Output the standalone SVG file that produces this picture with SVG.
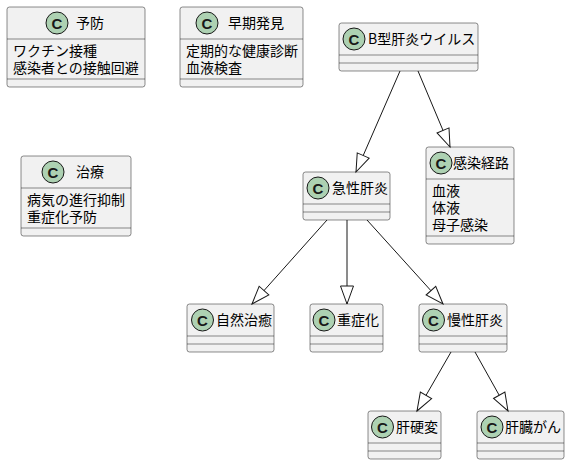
<svg xmlns="http://www.w3.org/2000/svg" width="570" height="466" viewBox="0 0 570 466">
<style>
.box{fill:#F1F1F1;stroke:#181818;stroke-width:0.5}
.sep{stroke:#181818;stroke-width:0.5}
.circ{fill:#ADD1B2;stroke:#181818;stroke-width:1}
.c{font-family:"Liberation Sans","DejaVu Sans",sans-serif;font-size:15px;font-weight:bold;fill:#181818;text-anchor:middle}
.t{font-family:"Noto Sans CJK JP","Noto Sans",sans-serif;font-size:14px;fill:#000}
.edge{stroke:#181818;stroke-width:1;fill:none}
</style>
<defs>
<marker id="tri" markerUnits="userSpaceOnUse" markerWidth="22" markerHeight="16" viewBox="-20 -8 22 16" refX="0" refY="0" orient="auto">
<path d="M0,0 L-18,-6.5 L-18,6.5 Z" fill="#FFFFFF" stroke="#181818" stroke-width="1"/>
</marker>
</defs>
<rect width="570" height="466" fill="#FFFFFF"/>

<g id="n-yobou">
<rect class="box" x="7" y="7" width="138" height="80" rx="2.5"/>
<circle class="circ" cx="57" cy="23" r="11"/><text class="c" x="57" y="28.5">C</text>
<text class="t" x="76" y="28">予防</text>
<line class="sep" x1="7" y1="39" x2="145" y2="39"/>
<text class="t" x="13" y="55.5">ワクチン接種</text>
<text class="t" x="13" y="72.5">感染者との接触回避</text>
<line class="sep" x1="7" y1="79" x2="145" y2="79"/>
</g>

<g id="n-soukihakken">
<rect class="box" x="180" y="7" width="123" height="80" rx="2.5"/>
<circle class="circ" cx="207" cy="23" r="11"/><text class="c" x="207" y="28.5">C</text>
<text class="t" x="228" y="28">早期発見</text>
<line class="sep" x1="180" y1="39" x2="303" y2="39"/>
<text class="t" x="186" y="55.5">定期的な健康診断</text>
<text class="t" x="186" y="72.5">血液検査</text>
<line class="sep" x1="180" y1="79" x2="303" y2="79"/>
</g>

<g id="n-chiryou">
<rect class="box" x="21" y="156" width="110" height="80" rx="2.5"/>
<circle class="circ" cx="53" cy="172" r="11"/><text class="c" x="53" y="177.5">C</text>
<text class="t" x="76" y="177">治療</text>
<line class="sep" x1="21" y1="188" x2="131" y2="188"/>
<text class="t" x="27" y="204.5">病気の進行抑制</text>
<text class="t" x="27" y="221.5">重症化予防</text>
<line class="sep" x1="21" y1="228" x2="131" y2="228"/>
</g>

<g id="n-hbv">
<rect class="box" x="339" y="23" width="139" height="48" rx="2.5"/>
<circle class="circ" cx="354" cy="39" r="11"/><text class="c" x="354" y="44.5">C</text>
<text class="t" x="368" y="44">B型肝炎ウイルス</text>
<line class="sep" x1="339" y1="55" x2="478" y2="55"/>
<line class="sep" x1="339" y1="63" x2="478" y2="63"/>
</g>

<g id="n-kansenkeiro">
<rect class="box" x="426" y="147" width="88" height="97" rx="2.5"/>
<circle class="circ" cx="441" cy="163" r="11"/><text class="c" x="441" y="168.5">C</text>
<text class="t" x="453" y="168">感染経路</text>
<line class="sep" x1="426" y1="179" x2="514" y2="179"/>
<text class="t" x="432" y="195.5">血液</text>
<text class="t" x="432" y="212.5">体液</text>
<text class="t" x="432" y="229.5">母子感染</text>
<line class="sep" x1="426" y1="236" x2="514" y2="236"/>
</g>

<g id="n-kyusei">
<rect class="box" x="303" y="172" width="87" height="48" rx="2.5"/>
<circle class="circ" cx="318" cy="188" r="11"/><text class="c" x="318" y="193.5">C</text>
<text class="t" x="332" y="193">急性肝炎</text>
<line class="sep" x1="303" y1="204" x2="390" y2="204"/>
<line class="sep" x1="303" y1="212" x2="390" y2="212"/>
</g>

<g id="n-shizenchiyu">
<rect class="box" x="187" y="304" width="87" height="48" rx="2.5"/>
<circle class="circ" cx="202.5" cy="320" r="11"/><text class="c" x="202.5" y="325.5">C</text>
<text class="t" x="216" y="325">自然治癒</text>
<line class="sep" x1="187" y1="336" x2="274" y2="336"/>
<line class="sep" x1="187" y1="344" x2="274" y2="344"/>
</g>

<g id="n-juushouka">
<rect class="box" x="310" y="304" width="73" height="48" rx="2.5"/>
<circle class="circ" cx="324" cy="320" r="11"/><text class="c" x="324" y="325.5">C</text>
<text class="t" x="337" y="325">重症化</text>
<line class="sep" x1="310" y1="336" x2="383" y2="336"/>
<line class="sep" x1="310" y1="344" x2="383" y2="344"/>
</g>

<g id="n-mansei">
<rect class="box" x="419" y="304" width="88" height="48" rx="2.5"/>
<circle class="circ" cx="433.5" cy="320" r="11"/><text class="c" x="433.5" y="325.5">C</text>
<text class="t" x="447" y="325">慢性肝炎</text>
<line class="sep" x1="419" y1="336" x2="507" y2="336"/>
<line class="sep" x1="419" y1="344" x2="507" y2="344"/>
</g>

<g id="n-kankouhen">
<rect class="box" x="368" y="411" width="73" height="48" rx="2.5"/>
<circle class="circ" cx="382.5" cy="427" r="11"/><text class="c" x="382.5" y="432.5">C</text>
<text class="t" x="396" y="432">肝硬変</text>
<line class="sep" x1="368" y1="443" x2="441" y2="443"/>
<line class="sep" x1="368" y1="451" x2="441" y2="451"/>
</g>

<g id="n-kanzougan">
<rect class="box" x="477" y="411" width="87" height="48" rx="2.5"/>
<circle class="circ" cx="492" cy="427" r="11"/><text class="c" x="492" y="432.5">C</text>
<text class="t" x="505" y="432">肝臓がん</text>
<line class="sep" x1="477" y1="443" x2="564" y2="443"/>
<line class="sep" x1="477" y1="451" x2="564" y2="451"/>
</g>

<g id="connectors">
<line class="edge" x1="400" y1="71" x2="356" y2="172" marker-end="url(#tri)"/>
<line class="edge" x1="418" y1="71" x2="450" y2="147" marker-end="url(#tri)"/>
<line class="edge" x1="327" y1="220" x2="252" y2="304" marker-end="url(#tri)"/>
<line class="edge" x1="347" y1="220" x2="347" y2="304" marker-end="url(#tri)"/>
<line class="edge" x1="367" y1="220" x2="443" y2="304" marker-end="url(#tri)"/>
<line class="edge" x1="451" y1="352" x2="417" y2="411" marker-end="url(#tri)"/>
<line class="edge" x1="475" y1="352" x2="508" y2="411" marker-end="url(#tri)"/>
</g>
</svg>
